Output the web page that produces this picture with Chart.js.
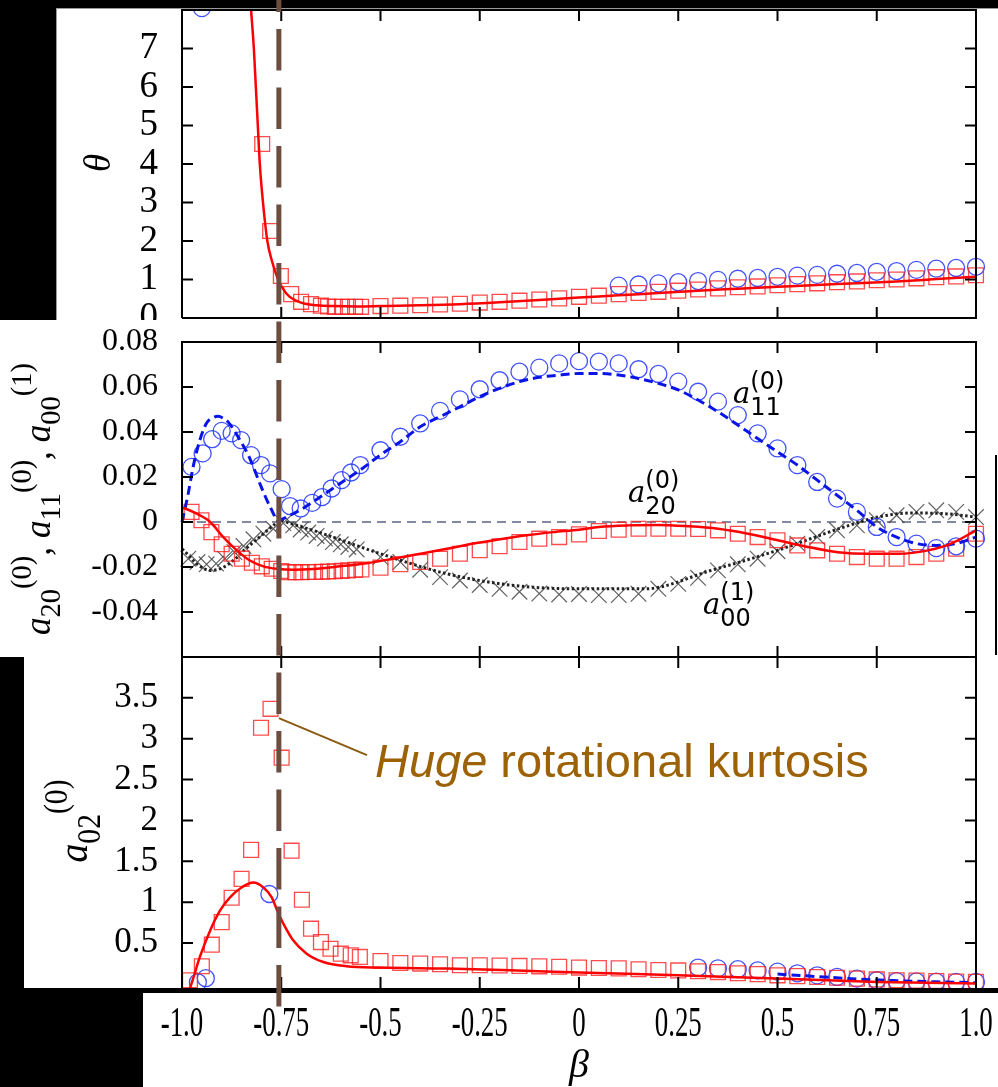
<!DOCTYPE html>
<html>
<head>
<meta charset="utf-8">
<script src="https://cdn.jsdelivr.net/npm/chart.js@4.4.1/dist/chart.umd.min.js"></script>
<style>
  html, body { margin: 0; padding: 0; background: #000; }
  #page { position: relative; width: 998px; height: 1087px; background: #000; overflow: hidden; }
  .w { position: absolute; background: #fff; }
  canvas { position: absolute; left: 0; }
</style>
</head>
<body>
<div id="page">
  <div class="w" style="left:56px;top:8px;width:942px;height:312px;border-top:1px solid #999;border-left:1px solid #999;box-sizing:border-box"></div>
  <div class="w" style="left:0;top:320px;width:998px;height:337px"></div>
  <div class="w" style="left:24px;top:657px;width:974px;height:331px"></div>
  <div class="w" style="left:143px;top:993px;width:855px;height:94px"></div>
  <div style="position:absolute;left:995px;top:455px;width:2px;height:200px;background:#000"></div>
  <canvas id="cTheta" width="998" height="320" style="top:0"></canvas>
  <canvas id="cCoef" width="998" height="337" style="top:320px"></canvas>
  <canvas id="cKurt" width="998" height="430" style="top:657px"></canvas>
</div>
<script>
// ----- axes -----
const xTickValues = [-1, -0.75, -0.5, -0.25, 0, 0.25, 0.5, 0.75, 1];
const xTickLabels = ['-1.0', '-0.75', '-0.5', '-0.25', '0', '0.25', '0.5', '0.75', '1.0'];
const thetaTickValues = [0, 1, 2, 3, 4, 5, 6, 7];
const thetaTickLabels = ['0', '1', '2', '3', '4', '5', '6', '7'];
const coefTickValues = [-0.04, -0.02, 0, 0.02, 0.04, 0.06, 0.08];
const coefTickLabels = ['-0.04', '-0.02', '0', '0.02', '0.04', '0.06', '0.08'];
const kurtTickValues = [0.5, 1, 1.5, 2, 2.5, 3, 3.5];
const kurtTickLabels = ['0.5', '1', '1.5', '2', '2.5', '3', '3.5'];
const criticalBeta = -0.756;

// ----- theta panel -----
const thetaFitBeta = [-0.83, -0.826, -0.819, -0.814, -0.809, -0.804, -0.796, -0.785, -0.774, -0.758, -0.745, -0.73, -0.71, -0.69, -0.66, -0.62, -0.56, -0.5, -0.4, -0.3, -0.2, -0.1, 0, 0.1, 0.2, 0.3, 0.4, 0.5, 0.6, 0.7, 0.8, 0.9, 1.0];
const thetaFitValue = [8.6, 8.0, 7.0, 6.0, 5.0, 4.0, 3.0, 2.0, 1.5, 1.0, 0.75, 0.56, 0.44, 0.37, 0.33, 0.31, 0.30, 0.31, 0.33, 0.36, 0.41, 0.47, 0.53, 0.59, 0.65, 0.71, 0.76, 0.81, 0.86, 0.90, 0.95, 1.01, 1.07];
const thetaSimBeta = [-0.798, -0.778, -0.751, -0.725, -0.700, -0.675, -0.650, -0.632, -0.615, -0.597, -0.582, -0.564, -0.549, -0.5, -0.45, -0.4, -0.35, -0.3, -0.25, -0.2, -0.15, -0.1, -0.05, 0, 0.05, 0.1, 0.15, 0.2, 0.25, 0.3, 0.35, 0.4, 0.45, 0.5, 0.55, 0.6, 0.65, 0.7, 0.75, 0.8, 0.85, 0.9, 0.95, 1.0];
const thetaSimValue = [4.52, 2.26, 1.09, 0.62, 0.42, 0.36, 0.32, 0.30, 0.29, 0.29, 0.29, 0.29, 0.29, 0.31, 0.32, 0.33, 0.35, 0.37, 0.40, 0.42, 0.45, 0.48, 0.51, 0.55, 0.58, 0.62, 0.65, 0.68, 0.71, 0.74, 0.77, 0.80, 0.82, 0.85, 0.88, 0.90, 0.93, 0.95, 0.98, 1.00, 1.03, 1.06, 1.08, 1.11];
const thetaBlueBeta = [-0.95, 0.1, 0.15, 0.2, 0.25, 0.3, 0.35, 0.4, 0.45, 0.5, 0.55, 0.6, 0.65, 0.7, 0.75, 0.8, 0.85, 0.9, 0.95, 1.0];
const thetaBlueValue = [8.05, 0.84, 0.87, 0.90, 0.93, 0.96, 0.99, 1.02, 1.04, 1.07, 1.10, 1.12, 1.15, 1.17, 1.20, 1.22, 1.25, 1.28, 1.30, 1.33];

// ----- coefficient panel -----
const a11SimBeta = [-0.976, -0.948, -0.924, -0.900, -0.875, -0.851, -0.826, -0.801, -0.778, -0.749, -0.728, -0.701, -0.672, -0.647, -0.623, -0.598, -0.574, -0.551, -0.5, -0.45, -0.4, -0.35, -0.3, -0.25, -0.2, -0.15, -0.1, -0.05, 0, 0.05, 0.1, 0.15, 0.2, 0.25, 0.3, 0.35, 0.4, 0.45, 0.5, 0.55, 0.6, 0.65, 0.7, 0.75, 0.8, 0.85, 0.9, 0.95, 1.0];
const a11SimValue = [0.0245, 0.0305, 0.0368, 0.0405, 0.0394, 0.0364, 0.0297, 0.0253, 0.0216, 0.0146, 0.0071, 0.0060, 0.0085, 0.0111, 0.0149, 0.0186, 0.0220, 0.0253, 0.0319, 0.0379, 0.0438, 0.0494, 0.0545, 0.0590, 0.0630, 0.0668, 0.0686, 0.0705, 0.0715, 0.0713, 0.0705, 0.0679, 0.0658, 0.0624, 0.0579, 0.0535, 0.0475, 0.0394, 0.0327, 0.0253, 0.0178, 0.0104, 0.0045, -0.0022, -0.0067, -0.0096, -0.0116, -0.0108, -0.0074];
const a11FitBeta = [-1, -0.985, -0.972, -0.955, -0.938, -0.92, -0.909, -0.895, -0.884, -0.859, -0.829, -0.804, -0.778, -0.757, -0.745, -0.728, -0.703, -0.652, -0.602, -0.552, -0.501, -0.451, -0.4, -0.35, -0.3, -0.25, -0.2, -0.15, -0.1, -0.05, 0, 0.05, 0.1, 0.15, 0.2, 0.25, 0.3, 0.35, 0.4, 0.45, 0.5, 0.55, 0.6, 0.65, 0.7, 0.75, 0.8, 0.85, 0.9, 0.95, 1.0];
const a11FitValue = [0, 0.012, 0.0245, 0.0364, 0.044, 0.0465, 0.047, 0.046, 0.0445, 0.0379, 0.0282, 0.0171, 0.0067, 0.0008, 0.0015, 0.003, 0.0052, 0.0111, 0.0171, 0.023, 0.0297, 0.0356, 0.0423, 0.0468, 0.0512, 0.0557, 0.0594, 0.0624, 0.0643, 0.0653, 0.066, 0.066, 0.0653, 0.0638, 0.0616, 0.0587, 0.0542, 0.049, 0.0431, 0.0371, 0.0312, 0.0253, 0.0186, 0.0119, 0.0052, -0.0022, -0.0067, -0.0096, -0.0104, -0.0096, -0.0067];
const a20SimBeta = [-0.976, -0.951, -0.926, -0.900, -0.875, -0.849, -0.824, -0.799, -0.774, -0.750, -0.732, -0.715, -0.699, -0.682, -0.665, -0.648, -0.632, -0.615, -0.598, -0.582, -0.564, -0.548, -0.5, -0.45, -0.4, -0.35, -0.3, -0.25, -0.2, -0.15, -0.1, -0.05, 0, 0.05, 0.1, 0.15, 0.2, 0.25, 0.3, 0.35, 0.4, 0.45, 0.5, 0.55, 0.6, 0.65, 0.7, 0.75, 0.8, 0.85, 0.9, 0.95, 1.0];
const a20SimValue = [0.0045, 0.0008, -0.0045, -0.0099, -0.0141, -0.0163, -0.0181, -0.0197, -0.0208, -0.0218, -0.0223, -0.0223, -0.0223, -0.0222, -0.0222, -0.0221, -0.0220, -0.0219, -0.0217, -0.0215, -0.0213, -0.0211, -0.0203, -0.0188, -0.0178, -0.0163, -0.0141, -0.0125, -0.0108, -0.0089, -0.0074, -0.0067, -0.0055, -0.0040, -0.0034, -0.0030, -0.0030, -0.0030, -0.0031, -0.0037, -0.0052, -0.0067, -0.0081, -0.0104, -0.0126, -0.0141, -0.0156, -0.0163, -0.0163, -0.0156, -0.0141, -0.0119, -0.0052];
const a20FitBeta = [-1, -0.992, -0.963, -0.929, -0.896, -0.862, -0.829, -0.795, -0.761, -0.72, -0.669, -0.602, -0.535, -0.468, -0.4, -0.333, -0.265, -0.199, -0.132, -0.065, 0, 0.05, 0.123, 0.2, 0.275, 0.35, 0.426, 0.501, 0.577, 0.652, 0.728, 0.804, 0.879, 0.937, 1.0];
const a20FitValue = [0.0065, 0.006, 0.0037, 0, -0.0067, -0.0126, -0.0171, -0.0197, -0.0208, -0.0212, -0.0209, -0.0197, -0.0183, -0.0163, -0.0141, -0.0119, -0.0096, -0.0077, -0.0059, -0.0045, -0.0034, -0.0022, -0.0015, -0.0013, -0.0019, -0.003, -0.0052, -0.0081, -0.0111, -0.0134, -0.0141, -0.0141, -0.0126, -0.0096, -0.0037];
const a00SimBeta = [-0.984, -0.961, -0.938, -0.914, -0.892, -0.868, -0.845, -0.820, -0.795, -0.770, -0.745, -0.720, -0.701, -0.682, -0.661, -0.640, -0.620, -0.600, -0.581, -0.560, -0.5, -0.45, -0.4, -0.35, -0.3, -0.25, -0.2, -0.15, -0.1, -0.05, 0, 0.05, 0.1, 0.15, 0.2, 0.25, 0.3, 0.35, 0.4, 0.45, 0.5, 0.55, 0.6, 0.65, 0.7, 0.75, 0.8, 0.85, 0.9, 0.95, 1.0];
const a00SimValue = [-0.0163, -0.0178, -0.0188, -0.0185, -0.0163, -0.0134, -0.0107, -0.0077, -0.0052, -0.0030, -0.0005, -0.0015, -0.0033, -0.0047, -0.0062, -0.0074, -0.0089, -0.0099, -0.0111, -0.0122, -0.0156, -0.0178, -0.0212, -0.0245, -0.0260, -0.0280, -0.0297, -0.0310, -0.0318, -0.0322, -0.0320, -0.0325, -0.0325, -0.0319, -0.0297, -0.0275, -0.0248, -0.0215, -0.0188, -0.0163, -0.0130, -0.0096, -0.0067, -0.0037, -0.0015, 0.0008, 0.0030, 0.0045, 0.0052, 0.0045, 0.0022];
const a00FitBeta = [-1, -0.996, -0.96, -0.929, -0.90, -0.87, -0.84, -0.80, -0.77, -0.753, -0.73, -0.67, -0.5, -0.333, -0.165, 0, 0.165, 0.333, 0.5, 0.668, 0.753, 0.836, 0.921, 1.0];
const a00FitValue = [-0.012, -0.0126, -0.019, -0.0215, -0.0205, -0.017, -0.012, -0.006, -0.0015, 0.0008, -0.0005, -0.0037, -0.0141, -0.023, -0.0282, -0.0297, -0.0297, -0.0215, -0.0126, -0.0022, 0.0022, 0.004, 0.0037, 0.0022];
const zeroBeta = [-1, 1];
const zeroValue = [0, 0];

// ----- kurtosis panel -----
const a02SimBeta = [-0.98, -0.95, -0.925, -0.90, -0.875, -0.85, -0.826, -0.801, -0.777, -0.749, -0.724, -0.698, -0.675, -0.65, -0.626, -0.60, -0.575, -0.552, -0.5, -0.45, -0.4, -0.35, -0.3, -0.25, -0.2, -0.15, -0.1, -0.05, 0, 0.05, 0.1, 0.15, 0.2, 0.25, 0.3, 0.35, 0.4, 0.45, 0.5, 0.55, 0.6, 0.65, 0.7, 0.75, 0.8, 0.85, 0.9, 0.95, 1.0];
const a02SimValue = [0.045, 0.216, 0.48, 0.756, 1.054, 1.285, 1.64, 3.134, 3.366, 2.768, 1.63, 1.03, 0.676, 0.512, 0.43, 0.37, 0.35, 0.33, 0.28, 0.256, 0.249, 0.24, 0.228, 0.228, 0.225, 0.22, 0.215, 0.21, 0.20, 0.195, 0.19, 0.18, 0.17, 0.165, 0.155, 0.145, 0.13, 0.12, 0.105, 0.095, 0.085, 0.075, 0.065, 0.055, 0.045, 0.04, 0.035, 0.03, 0.025];
const a02FitBeta = [-0.985, -0.98, -0.955, -0.929, -0.904, -0.879, -0.85, -0.82, -0.795, -0.774, -0.757, -0.745, -0.72, -0.686, -0.644, -0.585, -0.501, -0.333, -0.174, 0, 0.25, 0.5, 0.75, 1.0];
const a02FitValue = [-0.1, -0.05, 0.33, 0.655, 0.9, 1.06, 1.18, 1.24, 1.18, 1.06, 0.86, 0.74, 0.533, 0.37, 0.268, 0.216, 0.20, 0.188, 0.167, 0.14, 0.106, 0.066, 0.024, 0.005];
const a02BlueBeta = [-0.96, -0.94, -0.78, 0.3, 0.35, 0.4, 0.45, 0.5, 0.55, 0.6, 0.65, 0.7, 0.75, 0.8, 0.85, 0.9, 0.95, 1.0];
const a02BlueValue = [0.02, 0.07, 1.1, 0.20, 0.19, 0.18, 0.165, 0.15, 0.13, 0.105, 0.085, 0.065, 0.045, 0.035, 0.03, 0.027, 0.025, 0.024];
const a02BlueFitBeta = [0.5, 0.6, 0.7, 0.8, 0.9, 1.0];
const a02BlueFitValue = [0.12, 0.09, 0.06, 0.04, 0.025, 0.015];

// ----- helpers -----
const pts = (xs, ys) => xs.map((x, i) => ({ x, y: ys[i] }));
const clipBox = { left: 12, right: 12, top: 0, bottom: 0 };
const SERIF = '"Liberation Serif", "Times New Roman", serif';

function lineSet(xs, ys, color, width, dash) {
  return {
    data: pts(xs, ys), showLine: true, borderColor: color, borderWidth: width,
    borderDash: dash || [], pointRadius: 0, pointHoverRadius: 0,
    cubicInterpolationMode: 'monotone', tension: 0.4, fill: false, clip: clipBox
  };
}
function markSet(xs, ys, style, color, radius, width) {
  return {
    data: pts(xs, ys), showLine: false, pointStyle: style, pointRadius: radius,
    pointHoverRadius: radius, borderColor: color, pointBorderColor: color,
    backgroundColor: 'rgba(0,0,0,0)', pointBackgroundColor: 'rgba(0,0,0,0)',
    borderWidth: width || 1.3, pointBorderWidth: width || 1.3, clip: clipBox
  };
}

function panelOptions(o) {
  return {
    responsive: false, animation: false, devicePixelRatio: 1, events: [],
    layout: { autoPadding: false, padding: { left: 0, right: 22, top: o.padTop, bottom: o.padBottom } },
    plugins: { legend: { display: false }, tooltip: { enabled: false } },
    scales: {
      x: o.x || { type: 'linear', min: -1, max: 1, display: false },
      y: {
        type: 'linear', min: o.yMin, max: o.yMax,
        afterBuildTicks: s => { s.ticks = o.tickValues.map(v => ({ value: v })); },
        afterFit: s => { s.width = 182; s.paddingTop = 0; s.paddingBottom = 0; },
        grid: { display: false, drawTicks: false },
        border: { display: false },
        ticks: {
          autoSkip: false, padding: 24, color: '#000',
          font: { family: SERIF, size: o.fontSize },
          callback: (v, i) => o.tickLabels[i]
        }
      }
    }
  };
}

// text runs: base glyph plus sub / superscripts
function drawRuns(ctx, runs, opt) {
  ctx.save();
  let pos = 0, start = 0;
  runs.forEach(r => {
    ctx.font = r.font;
    r.w = ctx.measureText(r.t).width;
    if (r.stack) { r.x = start; pos = Math.max(pos, start + r.w); }
    else { start = pos; r.x = pos; pos += r.w; }
  });
  ctx.translate(opt.x, opt.y);
  if (opt.rotate) ctx.rotate(-Math.PI / 2);
  const k = opt.fit ? opt.fit / pos : 1;
  ctx.scale(k, 1);
  const x0 = opt.center ? -pos / 2 : 0;
  ctx.fillStyle = opt.color || '#000';
  ctx.textAlign = 'left';
  ctx.textBaseline = 'alphabetic';
  runs.forEach(r => { ctx.font = r.font; ctx.fillText(r.t, x0 + r.x, r.dy || 0); });
  ctx.restore();
}

function panelPlugin(cfg) {
  return {
    id: 'panel',
    afterDatasetsDraw(chart) {
      const { ctx, chartArea: a, scales: { x, y } } = chart;
      ctx.save();
      ctx.strokeStyle = '#000';
      ctx.lineWidth = 2;
      ctx.beginPath();
      ctx.moveTo(a.left, a.bottom);
      ctx.lineTo(a.left, a.top);
      ctx.lineTo(a.right, a.top);
      ctx.lineTo(a.right, a.bottom);
      if (cfg.bottomEdge !== false) ctx.lineTo(a.left, a.bottom);
      ctx.stroke();
      ctx.beginPath();
      xTickValues.slice(1, -1).forEach(v => {
        const px = x.getPixelForValue(v);
        ctx.moveTo(px, a.top); ctx.lineTo(px, a.top + 11);
        ctx.moveTo(px, a.bottom); ctx.lineTo(px, a.bottom - 11);
      });
      cfg.yTicks.forEach(v => {
        const py = y.getPixelForValue(v);
        ctx.moveTo(a.left, py); ctx.lineTo(a.left + 11, py);
        ctx.moveTo(a.right, py); ctx.lineTo(a.right - 11, py);
      });
      ctx.stroke();
      ctx.restore();
    },
    afterDraw(chart) {
      const { ctx, scales: { x, y } } = chart;
      if (cfg.text) cfg.text(ctx, x, y);
      // vertical dashed marker at the critical beta, phase kept across panels
      const px = x.getPixelForValue(criticalBeta);
      ctx.save();
      ctx.strokeStyle = '#6d4c41';
      ctx.lineWidth = 5;
      ctx.setLineDash([41.5, 17]);
      ctx.lineDashOffset = (29.5 + cfg.pageTop) % 58.5;
      ctx.beginPath();
      ctx.moveTo(px, 0);
      ctx.lineTo(px, cfg.lineEnd);
      ctx.stroke();
      ctx.restore();
    }
  };
}

Chart.defaults.font.family = SERIF;
Chart.defaults.color = '#000';

const RED = '#ff0000';
const RED_MARK = 'rgba(255,30,30,0.8)';
const BLUE_MARK = 'rgba(30,50,255,0.85)';
const CROSS = 'rgba(70,70,70,0.85)';

// ===== top panel: theta =====
new Chart(document.getElementById('cTheta'), {
  type: 'scatter',
  data: { datasets: [
    lineSet(thetaFitBeta, thetaFitValue, RED, 2.5),
    markSet(thetaSimBeta, thetaSimValue, 'rect', RED_MARK, 10.5),
    markSet(thetaBlueBeta, thetaBlueValue, 'circle', BLUE_MARK, 8.5)
  ] },
  options: panelOptions({ yMin: 0, yMax: 8, tickValues: thetaTickValues, tickLabels: thetaTickLabels, fontSize: 37, padTop: 10, padBottom: 2 }),
  plugins: [panelPlugin({
    pageTop: 0, lineEnd: 320, yTicks: [1, 2, 3, 4, 5, 6, 7],
    text(ctx) {
      drawRuns(ctx, [{ t: 'θ', font: 'italic 37px ' + SERIF }], { x: 110, y: 163, rotate: true, center: true });
    }
  })]
});

// ===== middle panel: coefficients =====
const subF = '30px ' + SERIF, baseF = 'italic 37px ' + SERIF;
const annA = 'italic 29px "DejaVu Serif"', annS = '24px "DejaVu Sans"';
new Chart(document.getElementById('cCoef'), {
  type: 'scatter',
  data: { datasets: [
    lineSet(a20FitBeta, a20FitValue, RED, 2.5),
    lineSet(a11FitBeta, a11FitValue, '#0a14e6', 3, [9, 5]),
    markSet(a11SimBeta, a11SimValue, 'circle', BLUE_MARK, 8.5),
    markSet(a20SimBeta, a20SimValue, 'rect', RED_MARK, 10.5),
    lineSet(a00FitBeta, a00FitValue, '#222', 3, [2.5, 2.5]),
    markSet(a00SimBeta, a00SimValue, 'crossRot', CROSS, 11, 1.2),
    lineSet(zeroBeta, zeroValue, '#5a6482', 1.5, [9, 6])
  ] },
  options: panelOptions({ yMin: -0.06, yMax: 0.08, tickValues: coefTickValues, tickLabels: coefTickLabels, fontSize: 32, padTop: 22, padBottom: 0 }),
  plugins: [panelPlugin({
    pageTop: 320, lineEnd: 337, yTicks: [-0.04, -0.02, 0, 0.02, 0.04, 0.06],
    text(ctx, x, y) {
      drawRuns(ctx, [
        { t: 'a', font: baseF }, { t: '20', font: subF, dy: 10 }, { t: '(0)', font: subF, dy: -19 },
        { t: ', ', font: baseF },
        { t: 'a', font: baseF }, { t: '11', font: subF, dy: 10 }, { t: '(0)', font: subF, dy: -19 },
        { t: ', ', font: baseF },
        { t: 'a', font: baseF }, { t: '00', font: subF, dy: 10 }, { t: '(1)', font: subF, dy: -19 }
      ], { x: 50, y: 179, rotate: true, center: true, fit: 272 });
      const labels = [[0.388, 0.0529, '11', '(0)'], [0.1234, 0.0088, '20', '(0)'], [0.3123, -0.0407, '00', '(1)']];
      labels.forEach(([b, v, sub, sup]) => {
        drawRuns(ctx, [
          { t: 'a', font: annA }, { t: sub, font: annS, dy: 12 }, { t: sup, font: annS, dy: -14, stack: true }
        ], { x: x.getPixelForValue(b), y: y.getPixelForValue(v) });
      });
    }
  })]
});

// ===== bottom panel: kurtosis =====
new Chart(document.getElementById('cKurt'), {
  type: 'scatter',
  data: { datasets: [
    lineSet(a02FitBeta, a02FitValue, RED, 2.5),
    lineSet(a02BlueFitBeta, a02BlueFitValue, '#0a14e6', 3, [9, 5]),
    markSet(a02SimBeta, a02SimValue, 'rect', RED_MARK, 10.5),
    markSet(a02BlueBeta, a02BlueValue, 'circle', BLUE_MARK, 8.5)
  ] },
  options: panelOptions({
    yMin: -0.05, yMax: 4, tickValues: kurtTickValues, tickLabels: kurtTickLabels, fontSize: 35, padTop: 0, padBottom: 0,
    x: {
      type: 'linear', min: -1, max: 1, position: 'bottom',
      afterBuildTicks: s => { s.ticks = xTickValues.map(v => ({ value: v })); },
      afterFit: s => { s.height = 99; s.paddingLeft = 0; s.paddingRight = 0; },
      grid: { display: false, drawTicks: false },
      border: { display: false },
      ticks: { display: false },
      title: { display: true, text: 'β', color: '#000', font: { family: SERIF, size: 40, style: 'italic', lineHeight: 1 }, padding: { top: 0, bottom: 1 } }
    }
  }),
  plugins: [panelPlugin({
    pageTop: 657, lineEnd: 356, yTicks: [0.5, 1, 1.5, 2, 2.5, 3, 3.5], bottomEdge: false,
    text(ctx, x, y) {
      // beta tick labels: tall, condensed serif as in the figure
      ctx.save();
      ctx.font = '42px ' + SERIF;
      ctx.fillStyle = '#000';
      ctx.textAlign = 'center';
      ctx.textBaseline = 'alphabetic';
      xTickValues.forEach((v, i) => {
        ctx.save();
        ctx.translate(x.getPixelForValue(v), 379);
        ctx.scale(0.64, 1);
        ctx.fillText(xTickLabels[i], 0, 0);
        ctx.restore();
      });
      ctx.restore();
      drawRuns(ctx, [
        { t: 'a', font: 'italic 42px ' + SERIF }, { t: '02', font: '33px ' + SERIF, dy: 13 }, { t: '(0)', font: '33px ' + SERIF, dy: -20 }
      ], { x: 87, y: 164, rotate: true, center: true, fit: 83 });
      ctx.save();
      ctx.strokeStyle = '#8a5a10';
      ctx.lineWidth = 2;
      ctx.beginPath();
      ctx.moveTo(x.getPixelForValue(-0.756), y.getPixelForValue(3.253));
      ctx.lineTo(x.getPixelForValue(-0.534), y.getPixelForValue(2.80));
      ctx.stroke();
      ctx.restore();
      drawRuns(ctx, [
        { t: 'Huge', font: 'italic 47px "Liberation Sans"' }, { t: ' rotational kurtosis', font: '47px "Liberation Sans"' }
      ], { x: x.getPixelForValue(-0.514), y: y.getPixelForValue(2.533), color: '#9c6205' });
    }
  })]
});
</script>
</body>
</html>
